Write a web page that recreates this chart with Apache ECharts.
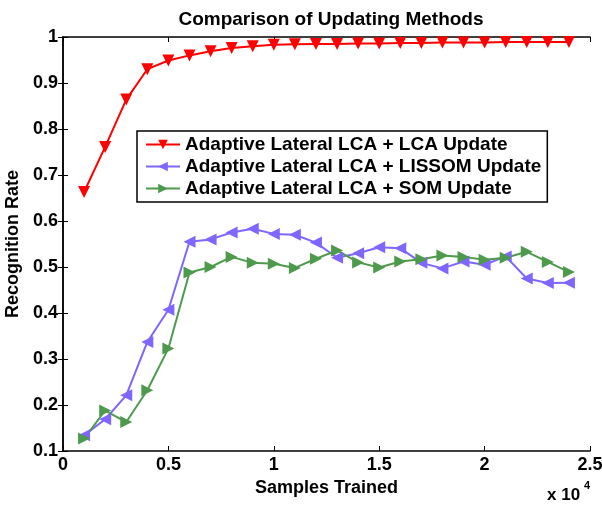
<!DOCTYPE html>
<html>
<head>
<meta charset="utf-8">
<script src="https://cdn.jsdelivr.net/npm/echarts@6/dist/echarts.min.js"></script>
<style>
  html, body { margin: 0; padding: 0; background: #fff; }
  #chart { width: 602px; height: 505px; }
</style>
</head>
<body>
<div id="chart"></div>
<script>
// samples trained (x), recognition rate per method
const samples = [1000, 2000, 3000, 4000, 5000, 6000, 7000, 8000, 9000, 10000, 11000, 12000,
  13000, 14000, 15000, 16000, 17000, 18000, 19000, 20000, 21000, 22000, 23000, 24000]
const lcaUpdate = [0.663, 0.761, 0.864, 0.930, 0.949, 0.960, 0.969, 0.976, 0.980, 0.983, 0.984, 0.985,
  0.985, 0.986, 0.986, 0.987, 0.987, 0.988, 0.988, 0.988, 0.989, 0.989, 0.989, 0.989]
const lissomUpdate = [0.134, 0.169, 0.221, 0.337, 0.407, 0.555, 0.560, 0.575, 0.583, 0.572, 0.570, 0.553,
  0.520, 0.530, 0.543, 0.541, 0.509, 0.497, 0.512, 0.505, 0.523, 0.475, 0.465, 0.466]
const somUpdate = [0.127, 0.188, 0.163, 0.232, 0.323, 0.488, 0.500, 0.522, 0.509, 0.507, 0.498, 0.518,
  0.536, 0.510, 0.499, 0.512, 0.517, 0.525, 0.522, 0.516, 0.520, 0.533, 0.511, 0.489]
const seriesNames = ['Adaptive Lateral LCA + LCA Update', 'Adaptive Lateral LCA + LISSOM Update', 'Adaptive Lateral LCA + SOM Update']

const font = 'Liberation Sans, Arial, Helvetica, sans-serif'
const pairs = arr => samples.map((s, i) => [s, arr[i]])

const tickStyle = { inside: true, length: 5, lineStyle: { color: '#000', width: 1 } }
const lineStyleAxis = { show: true, lineStyle: { color: '#000', width: 1.5 } }

const mk = (name, data, color, rotate) => ({
  name, type: 'line', data: pairs(data),
  symbol: 'triangle', symbolSize: 12, symbolRotate: rotate,
  lineStyle: { color, width: 2 },
  itemStyle: { color },
  emphasis: { disabled: true }
})

const chart = echarts.init(document.getElementById('chart'))
chart.setOption({
  animation: false,
  textStyle: { fontFamily: font },
  title: {
    text: 'Comparison of Updating Methods',
    left: 326, top: 5, textAlign: 'center',
    textStyle: { fontSize: 19, fontWeight: 'bold', color: '#000', fontFamily: font }
  },
  grid: { left: 63, right: 12, top: 37, bottom: 54, containLabel: false, outerBoundsMode: 'none' },
  legend: {
    orient: 'vertical', left: 137, top: 131,
    itemWidth: 34, itemHeight: 12, itemGap: 3,
    backgroundColor: '#fff', borderColor: '#000', borderWidth: 1.5,
    padding: [4, 6, 4, 8],
    textStyle: { fontSize: 19, fontWeight: 'bold', color: '#000', fontFamily: font },
    data: seriesNames
  },
  xAxis: [{
    type: 'value', min: 0, max: 25000, interval: 5000,
    name: 'Samples Trained', nameLocation: 'middle', nameGap: 27,
    nameTextStyle: { fontSize: 18, fontWeight: 'bold', color: '#000' },
    axisLine: lineStyleAxis, axisTick: tickStyle, splitLine: { show: false },
    axisLabel: { fontSize: 18, fontWeight: 'bold', color: '#000', margin: 5,
      formatter: v => String(v / 10000) }
  }, {
    type: 'value', position: 'top', min: 0, max: 25000, interval: 5000,
    axisLine: lineStyleAxis, axisTick: tickStyle, axisLabel: { show: false }, splitLine: { show: false }
  }],
  yAxis: [{
    type: 'value', min: 0.1, max: 1, interval: 0.1,
    name: 'Recognition Rate', nameLocation: 'middle', nameGap: 32,
    nameTextStyle: { fontSize: 18, fontWeight: 'bold', color: '#000' },
    axisLine: lineStyleAxis, axisTick: tickStyle, splitLine: { show: false },
    axisLabel: { fontSize: 18, fontWeight: 'bold', color: '#000', margin: 5,
      formatter: v => String(+v.toFixed(1)) }
  }, {
    type: 'value', position: 'right', min: 0.1, max: 1, interval: 0.1,
    axisLine: lineStyleAxis, axisTick: tickStyle, axisLabel: { show: false }, splitLine: { show: false }
  }],
  graphic: [{
    type: 'text', left: 547, top: 487,
    style: { text: 'x 10', fontSize: 17, fontWeight: 'bold', fill: '#000', fontFamily: font }
  }, {
    type: 'text', left: 584, top: 480,
    style: { text: '4', fontSize: 11, fontWeight: 'bold', fill: '#000', fontFamily: font }
  }],
  series: [
    mk(seriesNames[0], lcaUpdate, '#ff0000', 180),
    mk(seriesNames[1], lissomUpdate, '#7f66ff', 90),
    mk(seriesNames[2], somUpdate, '#4d9a4d', -90)
  ]
})
</script>
</body>
</html>
